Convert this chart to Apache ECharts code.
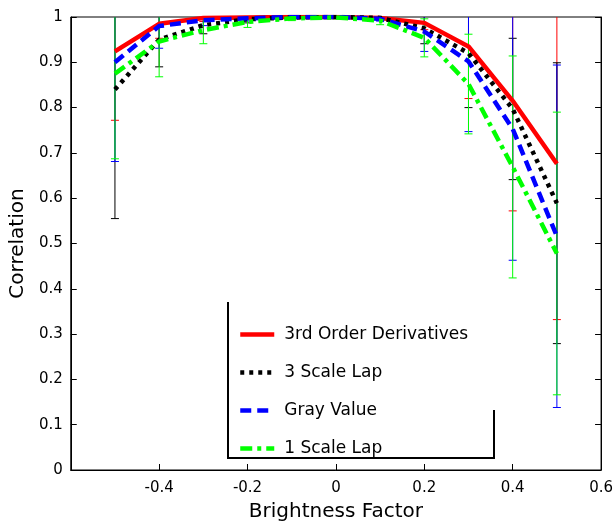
<!DOCTYPE html>
<html>
<head>
<meta charset="utf-8">
<script src="https://cdn.jsdelivr.net/npm/echarts@6/dist/echarts.min.js"></script>
<style>html,body{margin:0;padding:0;background:#fff;}#c{width:616px;height:527px;}</style>
</head>
<body>
<div id="c"></div>
<script>
// Data
const brightness = [-0.5, -0.4, -0.3, -0.2, -0.1, 0, 0.1, 0.2, 0.3, 0.4, 0.5];
const seriesNames = ['3rd Order Derivatives', '3 Scale Lap', 'Gray Value', '1 Scale Lap'];
const thirdOrder = [0.924, 0.985, 0.998, 0.999, 1.0, 1.0, 0.998, 0.987, 0.935, 0.815, 0.676];
const thirdOrderErr = [0.152, 0.032, 0.008, 0.005, 0.003, 0.002, 0.004, 0.015, 0.115, 0.243, 0.344];
const scale3Lap = [0.840, 0.950, 0.982, 0.995, 0.999, 1.0, 0.998, 0.975, 0.920, 0.797, 0.589];
const scale3LapErr = [0.285, 0.060, 0.019, 0.008, 0.004, 0.003, 0.005, 0.034, 0.120, 0.156, 0.310];
const grayValue = [0.900, 0.980, 0.993, 0.997, 1.0, 1.0, 0.996, 0.968, 0.902, 0.753, 0.516];
const grayValueErr = [0.219, 0.049, 0.012, 0.006, 0.003, 0.002, 0.005, 0.044, 0.155, 0.290, 0.378];
const scale1Lap = [0.875, 0.946, 0.971, 0.989, 0.997, 0.999, 0.992, 0.954, 0.852, 0.669, 0.478];
const scale1LapErr = [0.188, 0.078, 0.030, 0.012, 0.005, 0.003, 0.009, 0.042, 0.110, 0.245, 0.312];
const yTicks = [0, 0.1, 0.2, 0.3, 0.4, 0.5, 0.6, 0.7, 0.8, 0.9, 1];

const colors = ['#ff0000', '#000000', '#0000ff', '#00ff00'];
const dashes = ['solid', [4, 5], [11, 6], [12, 5, 4, 5]];
const values = [thirdOrder, scale3Lap, grayValue, scale1Lap];
const errs = [thirdOrderErr, scale3LapErr, grayValueErr, scale1LapErr];

const FONT = 'DejaVu Sans';

function errSeries(idx) {
  const col = colors[idx];
  return {
    type: 'custom',
    name: 'err' + idx,
    clip: true,
    silent: true,
    data: brightness.map((x, i) => [x, values[idx][i], errs[idx][i]]),
    renderItem: function (params, api) {
      const x = api.value(0), y = api.value(1), e = api.value(2);
      const t = api.coord([x, y + e]);
      const b = api.coord([x, y - e]);
      const w = 4;
      const st = { stroke: col, lineWidth: 1 };
      return {
        type: 'group',
        children: [
          { type: 'line', shape: { x1: t[0], y1: t[1], x2: b[0], y2: b[1] }, style: st },
          { type: 'line', shape: { x1: t[0] - w, y1: t[1], x2: t[0] + w, y2: t[1] }, style: st },
          { type: 'line', shape: { x1: b[0] - w, y1: b[1], x2: b[0] + w, y2: b[1] }, style: st }
        ]
      };
    }
  };
}

function lineSeries(idx) {
  return {
    type: 'line',
    name: seriesNames[idx],
    data: brightness.map((x, i) => [x, values[idx][i]]),
    showSymbol: false,
    symbol: 'none',
    clip: true,
    lineStyle: { color: colors[idx], width: 4.5, type: dashes[idx], cap: 'butt' },
    itemStyle: { color: colors[idx] }
  };
}

const series = [];
for (let i = 0; i < 4; i++) { series.push(errSeries(i)); series.push(lineSeries(i)); }

const chart = echarts.init(document.getElementById('c'), null, { renderer: 'canvas' });
chart.setOption({
  animation: false,
  backgroundColor: '#fff',
  grid: { left: 69, right: 13, top: 17, bottom: 53, show: true, borderColor: '#000', borderWidth: 1, backgroundColor: 'transparent' },
  xAxis: {
    type: 'value', min: -0.6, max: 0.6, interval: 0.2,
    name: 'Brightness Factor', nameLocation: 'middle', nameGap: 32,
    nameTextStyle: { fontFamily: FONT, fontSize: 20, color: '#000' },
    axisLine: { onZero: false, lineStyle: { color: '#000', width: 1 } },
    axisTick: { inside: true, length: 6, lineStyle: { color: '#000' } },
    axisLabel: {
      fontFamily: FONT, fontSize: 15, color: '#000', margin: 11,
      formatter: v => (Math.abs(v + 0.6) < 1e-6 ? '' : String(Math.round(v * 10) / 10))
    },
    splitLine: { show: false }
  },
  yAxis: [{
    type: 'value', min: 0, max: 1, interval: 0.1,
    name: 'Correlation', nameLocation: 'middle', nameGap: 35,
    nameTextStyle: { fontFamily: FONT, fontSize: 20, color: '#000' },
    axisLine: { onZero: false, lineStyle: { color: '#000', width: 1 } },
    axisTick: { inside: true, length: 6, lineStyle: { color: '#000' } },
    axisLabel: {
      fontFamily: FONT, fontSize: 15, color: '#000', margin: 8,
      formatter: v => { const t = yTicks.find(k => Math.abs(k - v) < 1e-6); return t === undefined ? '' : String(t); }
    },
    splitLine: { show: false }
  }, {
    type: 'value', min: 0, max: 1, interval: 0.1, position: 'right',
    axisLine: { show: true, onZero: false, lineStyle: { color: '#000', width: 1 } },
    axisTick: { inside: true, length: 6, lineStyle: { color: '#000' } },
    axisLabel: { show: false },
    splitLine: { show: false }
  }],
  legend: {
    data: seriesNames,
    orient: 'vertical',
    left: 233, top: 321,
    itemWidth: 34, itemHeight: 14, itemGap: 21,
    itemStyle: { color: 'transparent', borderWidth: 0, opacity: 0 },
    lineStyle: { width: 4.5 },
    textStyle: { fontFamily: FONT, fontSize: 17, color: '#000', padding: [0, 0, 0, 5] },
    z: 20
  },
  graphic: [{
    type: 'group', z: 15,
    children: [
      { type: 'rect', shape: { x: 228, y: 302, width: 266, height: 156 }, style: { fill: '#fff' }, z: 15 },
      { type: 'polyline', shape: { points: [[228, 302], [228, 458], [494, 458], [494, 410]] }, style: { stroke: '#000', lineWidth: 2, fill: null }, z: 16 }
    ]
  }],
  series: series
});
</script>
</body>
</html>
